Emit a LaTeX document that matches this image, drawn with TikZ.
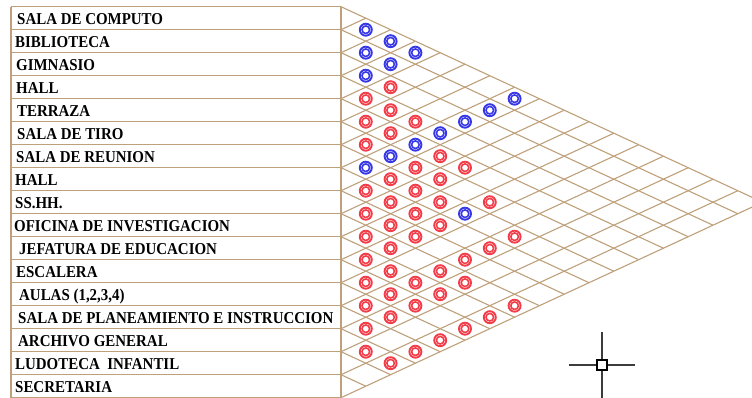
\documentclass[tikz,border=0pt]{standalone}
\usepackage{fontspec}
\setmainfont{Liberation Serif}[FakeStretch=0.9]
\definecolor{gridc}{RGB}{190,160,122}
\definecolor{bluec}{RGB}{55,55,230}
\definecolor{redc}{RGB}{242,60,72}
\definecolor{cursorc}{RGB}{60,60,60}
\begin{document}
\begin{tikzpicture}[x=1pt,y=-1pt,
  gridline/.style={draw=gridc, line width=1.1pt},
  lbl/.style={anchor=base west, inner sep=0pt, font=\fontsize{16.6}{18}\selectfont\bfseries},
  ringblue/.style={draw=bluec, line width=1.9pt},
  ringred/.style={draw=redc, line width=1.9pt},
  cursorline/.style={draw=cursorc, line width=1.1pt}]
\useasboundingbox (0,0) rectangle (752,398);
\begin{scope}
\clip (0,0) rectangle (752,398);
% left table
\foreach \k in {0,...,17} {
  \pgfmathsetmacro\yk{6.7+23*\k}
  \draw[gridline] (11,\yk) -- (341,\yk);
  \draw[gridline] (341,\yk) -- ++({(17-\k)*24.8},{(17-\k)*11.5});
  \draw[gridline] (341,\yk) -- ++({\k*24.8},{-\k*11.5});
}
\draw[gridline] (11,6.7) -- (11,397.7);
\draw[gridline] (341,6.7) -- (341,397.7);
% relation marks
\foreach \i/\j in {1/2,1/3,2/3,1/4,2/4,3/4,1/8,2/8,3/8,4/8,5/8,6/8,7/8,7/12} {
  \draw[ringblue] ({341+(\j-\i)*24.8},{6.7+(\i+\j-1)*11.5}) circle[radius=6pt];
  \draw[ringblue, line width=1.6pt] ({341+(\j-\i)*24.8},{6.7+(\i+\j-1)*11.5}) circle[radius=3.8pt];
}
\foreach \i/\j in {3/5,4/5,4/6,5/6,4/7,5/7,6/7,5/9,6/9,5/10,7/9,6/10,8/9,7/10,8/10,7/11,6/12,
  9/10,8/11,9/11,8/12,10/11,9/12,7/14,10/12,8/14,11/12,9/14,11/13,10/14,12/13,11/14,10/15,
  12/14,11/15,13/14,12/15,10/17,13/15,11/17,14/15,12/17,13/17,15/16,14/17,15/17} {
  \draw[ringred] ({341+(\j-\i)*24.8},{6.7+(\i+\j-1)*11.5}) circle[radius=6pt];
  \draw[ringred, line width=1.6pt] ({341+(\j-\i)*24.8},{6.7+(\i+\j-1)*11.5}) circle[radius=3.8pt];
}
% cursor
\draw[cursorline] (569,365) -- (597,365) (607,365) -- (635,365);
\draw[cursorline] (602,332) -- (602,360) (602,370) -- (602,398);
\draw[black, line width=1.4pt] (597,360) rectangle (607,370);
\end{scope}
% labels
\node[lbl] (r1) at (17,24.7) {SALA DE COMPUTO};
\node[lbl] (r2) at (15,47.7) {BIBLIOTECA};
\node[lbl] (r3) at (16,70.7) {GIMNASIO};
\node[lbl] (r4) at (16,93.7) {HALL};
\node[lbl] (r5) at (17,116.7) {TERRAZA};
\node[lbl] (r6) at (17,139.7) {SALA DE TIRO};
\node[lbl] (r7) at (16,162.7) {SALA DE REUNION};
\node[lbl] (r8) at (15,185.7) {HALL};
\node[lbl] (r9) at (15,208.7) {SS.HH.};
\node[lbl] (r10) at (14,231.7) {OFICINA DE INVESTIGACION};
\node[lbl] (r11) at (19,254.7) {JEFATURA DE EDUCACION};
\node[lbl] (r12) at (16,277.7) {ESCALERA};
\node[lbl] (r13) at (19,300.7) {AULAS (1,2,3,4)};
\node[lbl] (r14) at (18,323.7) {SALA DE PLANEAMIENTO E INSTRUCCION};
\node[lbl] (r15) at (18,346.7) {ARCHIVO GENERAL};
\node[lbl] (r16) at (15,369.7) {LUDOTECA\ \ INFANTIL};
\node[lbl] (r17) at (15,392.7) {SECRETARIA};
\end{tikzpicture}
\end{document}
